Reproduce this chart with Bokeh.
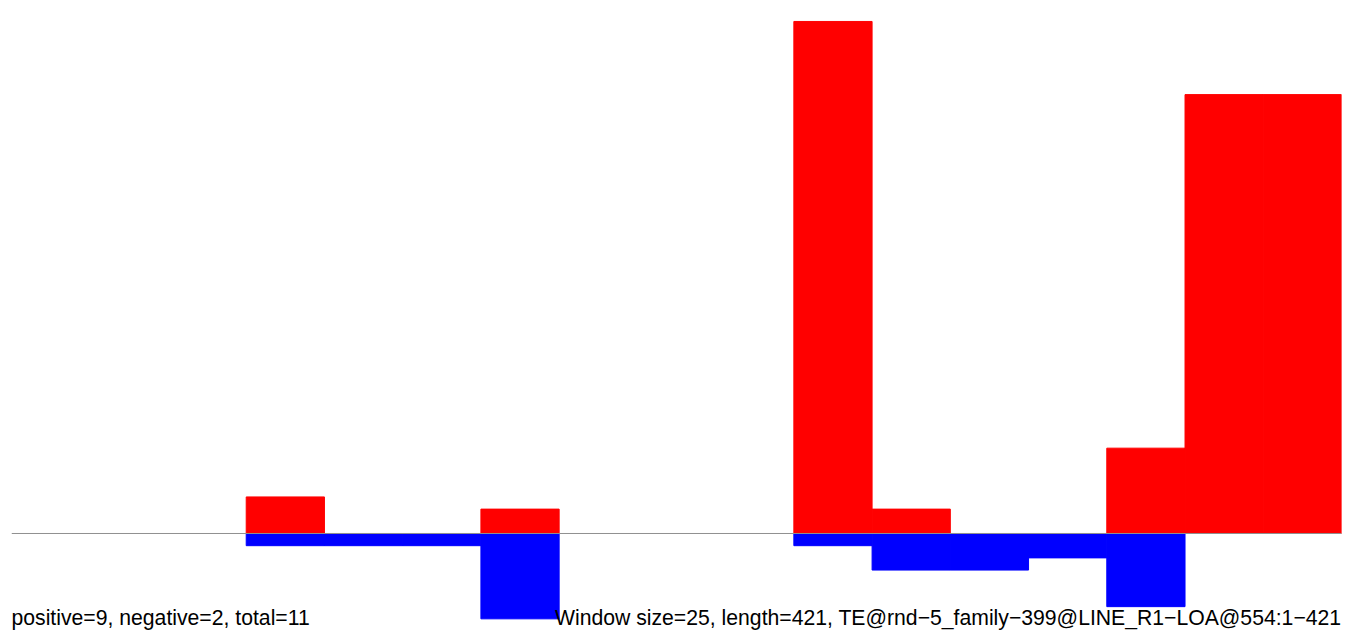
from bokeh.plotting import figure
from bokeh.models import Range1d, Label, ColumnDataSource
from bokeh.embed import file_html
from bokeh.resources import INLINE

# Data: counts per window (17 windows of 25 bp over length 421)
windows = list(range(17))
positive = [0, 0, 0, 3, 0, 0, 2, 0, 0, 0, 42, 2, 0, 0, 7, 36, 36]
negative = [0, 0, 0, 1, 1, 1, 7, 0, 0, 0, 1, 3, 3, 2, 6, 0, 0]
left_label = "positive=9, negative=2, total=11"
right_label = "Window size=25, length=421, TE@rnd\u22125_family\u2212399@LINE_R1\u2212LOA@554:1\u2212421"

pos_idx = [i for i, v in zip(windows, positive) if v != 0]
neg_idx = [i for i, v in zip(windows, negative) if v != 0]

pos_src = ColumnDataSource(dict(
    left=pos_idx, right=[i + 1 for i in pos_idx],
    top=[positive[i] for i in pos_idx], bottom=[0] * len(pos_idx)))
neg_src = ColumnDataSource(dict(
    left=neg_idx, right=[i + 1 for i in neg_idx],
    top=[0] * len(neg_idx), bottom=[-negative[i] for i in neg_idx]))

p = figure(width=1349, height=630, output_backend="svg", toolbar_location=None,
           x_range=Range1d(0, 17), y_range=Range1d(-7.957, 43.72),
           min_border_left=11, min_border_right=8, min_border_top=0, min_border_bottom=0)
p.axis.visible = False
p.grid.visible = False
p.outline_line_color = None
p.background_fill_color = "white"
p.border_fill_color = "white"

p.quad(left="left", right="right", bottom="bottom", top="top", source=pos_src,
       fill_color="#ff0000", line_color="#ff0000", line_width=1)
p.quad(left="left", right="right", bottom="bottom", top="top", source=neg_src,
       fill_color="#0000ff", line_color="#0000ff", line_width=1)
p.line(x=[0, 17], y=[0, 0], line_color="#909090", line_width=1)

p.add_layout(Label(x=0, y=-6.89, text=left_label, text_font="Liberation Sans",
                   text_font_size="21.2px", text_align="left", text_baseline="alphabetic",
                   text_color="black"))
p.add_layout(Label(x=17, y=-6.89, text=right_label, text_font="Liberation Sans",
                   text_font_size="21.2px", text_align="right", text_baseline="alphabetic",
                   text_color="black"))

open("out.html", "w").write(file_html(p, INLINE))
